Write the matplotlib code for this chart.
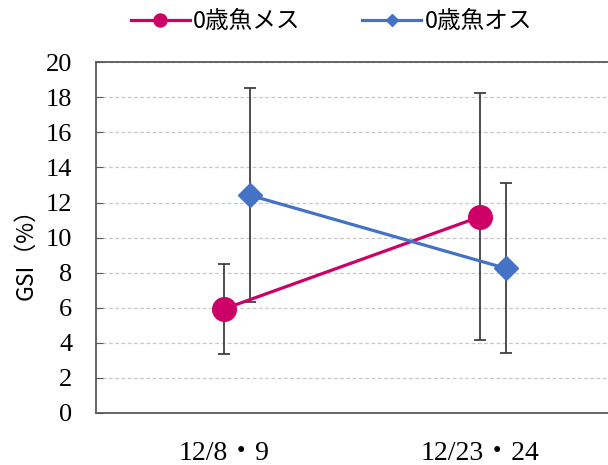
import matplotlib
matplotlib.use("Agg")
from matplotlib import pyplot as plt
import numpy as np

# GSI of 0-year-old fish, by sampling date
dates = ['12/8・9', '12/23・24']
female_gsi = [5.93, 11.19]
female_sd = [2.55, 7.05]
male_gsi = [12.42, 8.25]
male_sd = [6.1, 4.85]

pink = '#CC0066'
blue = '#4472C4'
serif = ['Liberation Serif', 'Noto Sans CJK JP']
gothic = ['Noto Sans CJK JP', 'DejaVu Sans']

x = np.arange(len(dates))
offset = 0.1

fig = plt.figure(figsize=(6.08, 4.65), dpi=100)
ax = fig.add_axes([0.158, 0.112, 0.842, 0.754])

ax.errorbar(x, female_gsi, yerr=female_sd, fmt='none', ecolor='#404040',
            elinewidth=1.3, capsize=4, capthick=1.3, zorder=2)
ax.errorbar(x + offset, male_gsi, yerr=male_sd, fmt='none', ecolor='#404040',
            elinewidth=1.3, capsize=4, capthick=1.3, zorder=2)
ax.plot(x, female_gsi, color=pink, lw=2.3, marker='o', ms=17, zorder=3,
        label='0歳魚メス')
ax.plot(x + offset, male_gsi, color=blue, lw=2.3, marker='D', ms=12, zorder=3,
        label='0歳魚オス')

ax.set_xlim(-0.5, 1.5)
ax.set_ylim(0, 20)
ax.set_yticks(np.arange(0, 21, 2))
ax.set_xticks(x)
ax.set_xticklabels(dates, family=serif, fontsize=20)
for lab in ax.get_yticklabels():
    lab.set_family(serif)
    lab.set_fontsize(19)
ax.tick_params(axis='x', length=0, pad=20)
ax.tick_params(axis='y', direction='in', length=5, color='#595959', pad=17)

ax.grid(axis='y', linestyle=(0, (3, 2)), color='#C8C8C8', lw=0.9)
ax.set_axisbelow(True)
for side in ['left', 'bottom', 'top']:
    ax.spines[side].set_color('#595959')
    ax.spines[side].set_linewidth(1.3)
ax.spines['right'].set_visible(False)

ax.set_ylabel('GSI（%）', family=gothic, fontsize=16.5)
ax.yaxis.set_label_coords(-0.115, 0.47)

fig.legend(loc='center', bbox_to_anchor=(0.545, 0.953), ncol=2, frameon=False,
           prop={'family': gothic, 'size': 17}, markerscale=0.55,
           handlelength=2.5, columnspacing=2.6, handletextpad=0.15)

fig.savefig('out.png', dpi=100)
